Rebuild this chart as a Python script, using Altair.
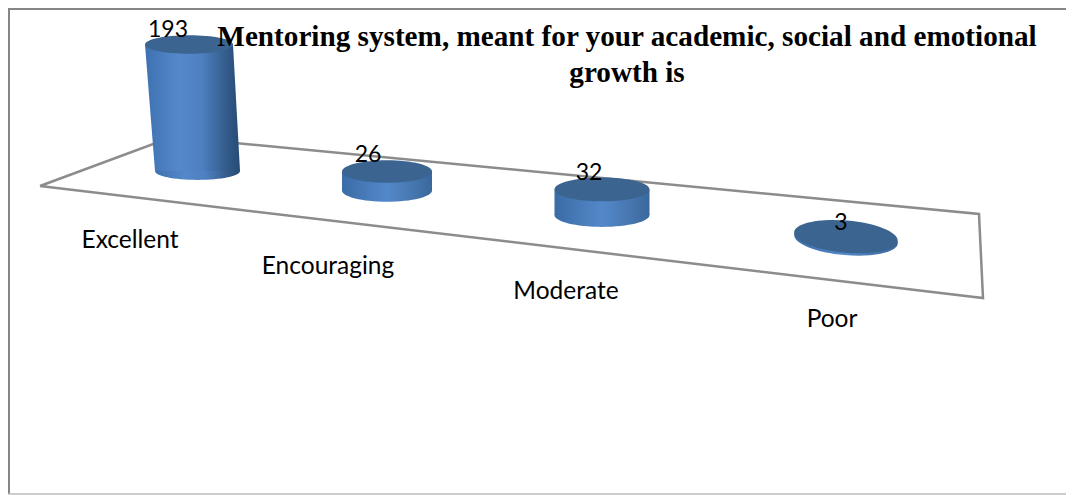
import altair as alt
import pandas as pd

# --- chart data ---
categories = ["Excellent", "Encouraging", "Moderate", "Poor"]
values = [193, 26, 32, 3]
title_lines = ["Mentoring system, meant for your academic, social and emotional", "growth is"]

# --- layout of the fake 3D scene (image pixels) ---
W, H = 1058, 487
base_y = [171, 190.5, 215, 239]
px_per_unit = [0.655, 0.73, 0.8, 0.8]
cx_base = [197.5, 387, 602, 846]
cx_top = [189, 387, 602, 846]
cyl_w_base = [85, 90, 95, 104]
cyl_w_top = [88, 90, 95, 104]
tilt = [0, 0, 0, 5]
aspect_top = [0.16, 0.25, 0.25, 0.31]
aspect_base = [0.21, 0.25, 0.25, 0.31]
cat_label_xy = [(130, 241), (328, 267), (566, 292), (832, 320)]
val_label_xy = [(168, 29.5), (368, 155), (589, 173), (841, 222.5)]
title_xy = [(627, 37), (627, 73)]
floor_xy = [(40, 186), (172, 137), (979, 214), (983, 298), (40, 186)]

top_y = [b - v * k for b, v, k in zip(base_y, values, px_per_unit)]

X = alt.Scale(domain=[8, 8 + W], range=[0, W])
Y = alt.Scale(domain=[8, 8 + H], range=[0, H])


def ell(a):
    return f"M-1,0A1,{a},0,1,1,1,0A1,{a},0,1,1,-1,0Z"


def grad(stops):
    return alt.LinearGradient(
        gradient="linear", x1=0, x2=1, y1=0, y2=0,
        stops=[alt.GradientStop(offset=o, color=c) for o, c in stops],
    )


tall = grad([(0, "#3d71b0"), (0.35, "#5488ca"), (0.6, "#4d80bf"), (0.85, "#345c8c"), (1, "#254a74")])
short = grad([(0, "#3a6ca6"), (0.5, "#5388c9"), (0.8, "#4676ae"), (1, "#3a689c")])
TOP = "#3b6491"

# --- tables ---
body_rows = []
for i, c in enumerate(categories):
    if tilt[i]:
        continue  # the flat, tilted disc is drawn by its two caps alone
    body_rows.append(dict(cat=c, y=base_y[i], x=cx_base[i] - cyl_w_base[i] / 2, x2=cx_base[i] + cyl_w_base[i] / 2))
    body_rows.append(dict(cat=c, y=top_y[i], x=cx_top[i] - cyl_w_top[i] / 2, x2=cx_top[i] + cyl_w_top[i] / 2))
body = pd.DataFrame(body_rows)

caps = pd.DataFrame(dict(
    cat=categories, xb=cx_base, yb=base_y, xt=cx_top, yt=top_y,
    sb=[w ** 2 for w in cyl_w_base], st=[w ** 2 for w in cyl_w_top], angle=tilt,
))
floor = pd.DataFrame(dict(x=[p[0] for p in floor_xy], y=[p[1] for p in floor_xy], o=range(len(floor_xy))))
cat_labels = pd.DataFrame(dict(t=categories, x=[p[0] for p in cat_label_xy], y=[p[1] for p in cat_label_xy]))
val_labels = pd.DataFrame(dict(t=[str(v) for v in values], x=[p[0] for p in val_label_xy], y=[p[1] for p in val_label_xy]))
titles = pd.DataFrame(dict(t=title_lines, x=[p[0] for p in title_xy], y=[p[1] for p in title_xy]))

# --- frame ---
frame = [
    alt.Chart(pd.DataFrame({"a": [0]})).mark_rule(color="#868686", strokeWidth=2).encode(
        x=alt.value(1), x2=alt.value(1), y=alt.value(0), y2=alt.value(486)),
    alt.Chart(pd.DataFrame({"a": [0]})).mark_rule(color="#868686", strokeWidth=2).encode(
        x=alt.value(0), x2=alt.value(W), y=alt.value(1), y2=alt.value(1)),
    alt.Chart(pd.DataFrame({"a": [0]})).mark_rule(color="#bdbdbd", strokeWidth=1.5).encode(
        x=alt.value(0), x2=alt.value(W), y=alt.value(486), y2=alt.value(486)),
]

floor_line = alt.Chart(floor).mark_line(color="#8c8c8c", strokeWidth=2.5, strokeJoin="miter").encode(
    x=alt.X("x:Q", scale=X, axis=None),
    y=alt.Y("y:Q", scale=Y, axis=None),
    order="o:Q",
)


def cyl(cats, fill):
    b = body[body.cat.isin(cats)]
    c = caps[caps.cat.isin(cats)]
    area = alt.Chart(b).mark_area(orient="horizontal", fill=fill, opacity=1).encode(
        y=alt.Y("y:Q", scale=Y, axis=None),
        x=alt.X("x:Q", scale=X, axis=None),
        x2="x2:Q",
        detail="cat:N",
    )
    bottom = alt.Chart(c).mark_point(filled=True, fill=fill, opacity=1, strokeWidth=0).encode(
        x=alt.X("xb:Q", scale=X, axis=None),
        y=alt.Y("yb:Q", scale=Y, axis=None),
        size=alt.Size("sb:Q", scale=None),
        angle=alt.Angle("angle:Q", scale=None),
        shape=alt.Shape("cat:N", scale=alt.Scale(domain=categories, range=[ell(a) for a in aspect_base]), legend=None),
    )
    top = alt.Chart(c).mark_point(filled=True, fill=TOP, opacity=1, strokeWidth=0).encode(
        x=alt.X("xt:Q", scale=X, axis=None),
        y=alt.Y("yt:Q", scale=Y, axis=None),
        size=alt.Size("st:Q", scale=None),
        angle=alt.Angle("angle:Q", scale=None),
        shape=alt.Shape("cat:N", scale=alt.Scale(domain=categories, range=[ell(a) for a in aspect_top]), legend=None),
    )
    return [bottom, area, top]


def text(df, **kw):
    return alt.Chart(df).mark_text(**kw).encode(
        x=alt.X("x:Q", scale=X, axis=None),
        y=alt.Y("y:Q", scale=Y, axis=None),
        text="t:N",
    )


layers = frame + [floor_line] + cyl(categories[:1], tall) + cyl(categories[1:], short) + [
    text(cat_labels, font="Lato", fontSize=24.5, color="#000000"),
    text(val_labels, font="Lato", fontSize=23, color="#000000"),
    text(titles, font="Liberation Serif", fontSize=29.2, fontWeight="bold", color="#000000"),
]

chart = alt.layer(*layers).properties(
    width=W, height=H, padding=0, background="#ffffff",
    autosize=alt.AutoSizeParams(type="none"),
).configure_view(stroke=None)

chart.save("out.html", embed_options={"renderer": "svg", "actions": False})
